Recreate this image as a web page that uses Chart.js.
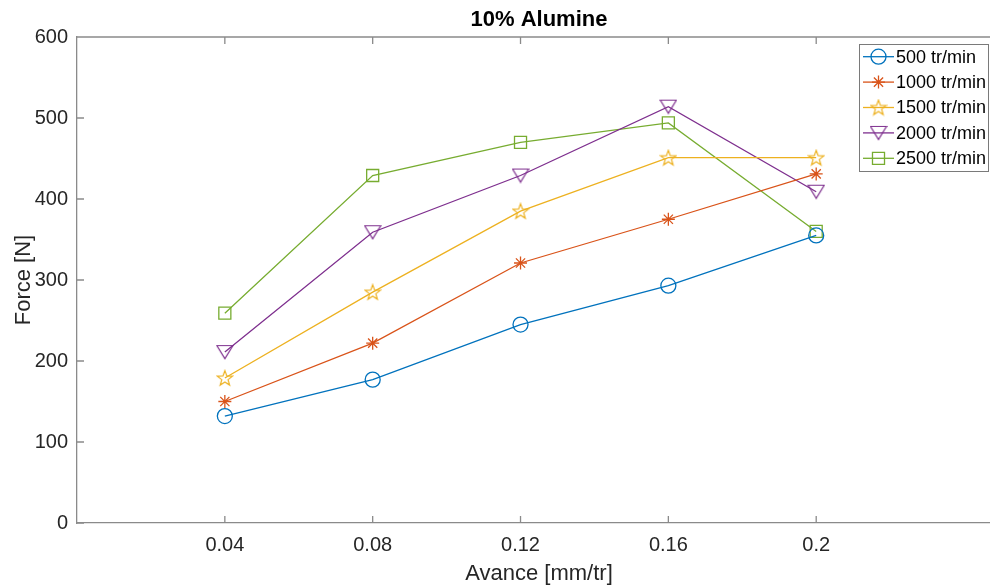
<!DOCTYPE html>
<html>
<head>
<meta charset="utf-8">
<script src="https://cdn.jsdelivr.net/npm/chart.js@4/dist/chart.umd.min.js"></script>
<style>
  html, body { margin: 0; padding: 0; background: #fff; overflow: hidden; }
  #wrap { position: relative; width: 990px; height: 587px; overflow: hidden; }
  #chart { position: absolute; left: 0; top: 0; }
</style>
</head>
<body>
<div id="wrap"><canvas id="chart" width="1012" height="587"></canvas></div>
<script>
// data
const avance = [0.04, 0.08, 0.12, 0.16, 0.2];
const xTickLabels = ['0.04', '0.08', '0.12', '0.16', '0.2'];
const yTickValues = [0, 100, 200, 300, 400, 500, 600];
const seriesNames = ['500 tr/min', '1000 tr/min', '1500 tr/min', '2000 tr/min', '2500 tr/min'];
const force500 = [132, 177, 245, 293, 355];
const force1000 = [150, 222, 321, 375, 431];
const force1500 = [179, 285, 385, 451, 451];
const force2000 = [211, 359, 429, 514, 409];
const force2500 = [259, 429, 470, 494, 360];

const colors = ['#0072BD', '#D95319', '#EDB120', '#7E2F8E', '#77AC30'];
const FONT = "'Liberation Sans', Arial, Helvetica, sans-serif";
const AXIS = '#8a8a8a';

// marker glyphs chart.js does not have
function makePentagram(color) {
  const c = document.createElement('canvas');
  c.width = 18; c.height = 18;
  const g = c.getContext('2d');
  g.strokeStyle = color; g.lineWidth = 1.2;
  g.beginPath();
  for (let i = 0; i < 10; i++) {
    const r = i % 2 === 0 ? 8 : 3.3;
    const a = -Math.PI / 2 + i * Math.PI / 5;
    const px = 9 + r * Math.cos(a), py = 9.6 + r * Math.sin(a);
    if (i === 0) g.moveTo(px, py); else g.lineTo(px, py);
  }
  g.closePath(); g.stroke();
  return c;
}
function makeTriangleDown(color) {
  const c = document.createElement('canvas');
  c.width = 18; c.height = 16;
  const g = c.getContext('2d');
  g.strokeStyle = color; g.lineWidth = 1.2;
  g.beginPath();
  g.moveTo(1, 1.5); g.lineTo(17, 1.5); g.lineTo(9, 14.5); g.closePath();
  g.stroke();
  return c;
}

const markers = [
  {pointStyle: 'circle', radius: 7.5},
  {pointStyle: 'star', radius: 6.5},
  {pointStyle: makePentagram(colors[2]), radius: 8},
  {pointStyle: makeTriangleDown(colors[3]), radius: 8},
  {pointStyle: 'rect', radius: 8.5}
];

const seriesValues = [force500, force1000, force1500, force2000, force2500];

const datasets = seriesValues.map((vals, i) => ({
  label: seriesNames[i],
  data: avance.map((x, j) => ({x: x, y: vals[j]})),
  borderColor: colors[i],
  backgroundColor: 'transparent',
  borderWidth: 1.3,
  pointStyle: markers[i].pointStyle,
  pointRadius: markers[i].radius,
  pointBorderColor: colors[i],
  pointBackgroundColor: 'transparent',
  pointBorderWidth: 1.3,
  tension: 0
}));

// MATLAB-like box with inward ticks, plus legend inside the axes
const boxPlugin = {
  id: 'matlabBox',
  afterDraw(chart) {
    const ctx = chart.ctx;
    const a = chart.chartArea;
    const xs = chart.scales.x, ys = chart.scales.y;
    const tick = 7;
    ctx.save();
    ctx.strokeStyle = AXIS;
    ctx.lineWidth = 1.3;
    ctx.beginPath();
    ctx.moveTo(a.left, a.top); ctx.lineTo(a.right, a.top); ctx.lineTo(a.right, a.bottom);
    xs.ticks.forEach(t => {
      const px = xs.getPixelForValue(t.value);
      ctx.moveTo(px, a.bottom); ctx.lineTo(px, a.bottom - tick);
      ctx.moveTo(px, a.top); ctx.lineTo(px, a.top + tick);
    });
    ys.ticks.forEach(t => {
      const py = ys.getPixelForValue(t.value);
      ctx.moveTo(a.left, py); ctx.lineTo(a.left + tick, py);
      ctx.moveTo(a.right, py); ctx.lineTo(a.right - tick, py);
    });
    ctx.stroke();

    // legend
    const lx = 859, ly = 44, lw = 129, lh = 127;
    ctx.fillStyle = '#fff';
    ctx.fillRect(lx, ly, lw, lh);
    ctx.strokeStyle = '#7a7a7a';
    ctx.lineWidth = 1;
    ctx.strokeRect(lx + 0.5, ly + 0.5, lw, lh);
    ctx.font = '18px ' + FONT;
    ctx.textBaseline = 'middle';
    ctx.textAlign = 'left';
    chart.data.datasets.forEach((ds, i) => {
      const cy = ly + 12.7 + i * 25.4;
      ctx.strokeStyle = ds.borderColor;
      ctx.lineWidth = 1.3;
      ctx.beginPath();
      ctx.moveTo(lx + 4, cy); ctx.lineTo(lx + 35, cy);
      ctx.stroke();
      ctx.fillStyle = 'rgba(0,0,0,0)';
      Chart.helpers.drawPoint(ctx, {
        pointStyle: ds.pointStyle, radius: ds.pointRadius, rotation: 0, borderWidth: 1.3
      }, lx + 19.5, cy);
      ctx.fillStyle = '#000';
      ctx.fillText(ds.label, lx + 37, cy + 1);
    });
    ctx.restore();
  }
};

new Chart(document.getElementById('chart'), {
  type: 'line',
  data: {datasets: datasets},
  plugins: [boxPlugin],
  options: {
    responsive: false,
    animation: false,
    layout: {padding: {top: 0, right: 11, left: 11, bottom: 0}},
    plugins: {
      legend: {display: false},
      tooltip: {enabled: false},
      title: {
        display: true,
        text: '10% Alumine',
        fullSize: false,
        color: '#000',
        font: {family: FONT, size: 22, weight: 'bold'},
        padding: {top: 7, bottom: 3.6}
      }
    },
    scales: {
      x: {
        type: 'linear',
        min: 0,
        max: 0.25,
        afterBuildTicks: s => { s.ticks = avance.map(v => ({value: v})); },
        afterFit: s => { s.height = 64; },
        ticks: {
          callback: v => xTickLabels[avance.indexOf(v)],
          color: '#262626',
          font: {family: FONT, size: 20},
          padding: 10,
          maxRotation: 0
        },
        grid: {display: false, drawTicks: false},
        border: {display: true, color: AXIS, width: 1.3},
        title: {
          display: true,
          text: 'Avance [mm/tr]',
          color: '#262626',
          font: {family: FONT, size: 22},
          padding: 0
        }
      },
      y: {
        min: 0,
        max: 600,
        afterBuildTicks: s => { s.ticks = yTickValues.map(v => ({value: v})); },
        afterFit: s => { s.width = 66; },
        ticks: {
          color: '#262626',
          font: {family: FONT, size: 20},
          padding: 9
        },
        grid: {display: false, drawTicks: false},
        border: {display: true, color: AXIS, width: 1.3},
        title: {
          display: true,
          text: 'Force [N]',
          color: '#262626',
          font: {family: FONT, size: 22},
          padding: 0
        }
      }
    }
  }
});
</script>
</body>
</html>
